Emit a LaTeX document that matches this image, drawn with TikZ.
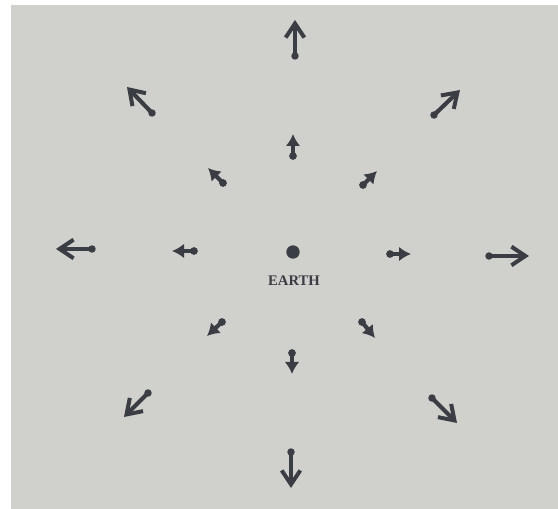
\documentclass[tikz,border=0pt]{standalone}
\usepackage{fontspec}
\setmainfont{Liberation Serif}
\usetikzlibrary{arrows.meta,positioning}
\definecolor{paper}{HTML}{D0D1CC}
\definecolor{slate}{HTML}{3A3D43}

\tikzset{
  farflow/.style={slate, line width=3.1pt,
    -{Straight Barb[length=10.5pt,width=14pt,line width=3pt]}},
  nearflow/.style={slate, line width=3.1pt, -{Latex[length=9pt,width=11pt]}},
  taildot/.style={fill=slate}
}

\begin{document}
\begin{tikzpicture}[x=0.75pt,y=-0.75pt]
  \useasboundingbox (0,0) rectangle (558,509);
  \fill[white] (0,0) rectangle (558,509);
  \fill[paper] (11,5) rectangle (558,509);

  % earth and its label
  \fill[slate] (293,252) circle (5pt);
  \node[font=\fontsize{11}{13}\selectfont\bfseries, text=slate] (earth) at (294,281) {EARTH};

  % outer ring: tail / head
  \foreach \tx/\ty/\hx/\hy in {295/56/295/20, 152/113/127/87, 434/115/460/90,
      92/249/56/249, 489/256/529/256, 148/393/124/417, 432/398/457/423,
      291/452/291/488}
    {\draw[farflow] (\tx,\ty) -- (\hx,\hy);
     \path[taildot] (\tx,\ty) circle (2.8pt);}

  % inner ring
  \foreach \tx/\ty/\hx/\hy in {293/156/293/134, 223/183/208/168, 363/185/377/171,
      194/251/172/251, 390/254/411/254, 222/322/207/336, 362/322/375/338,
      292/353/292/374}
    {\draw[nearflow] (\tx,\ty) -- (\hx,\hy);
     \path[taildot] (\tx,\ty) circle (2.9pt);}
\end{tikzpicture}
\end{document}
